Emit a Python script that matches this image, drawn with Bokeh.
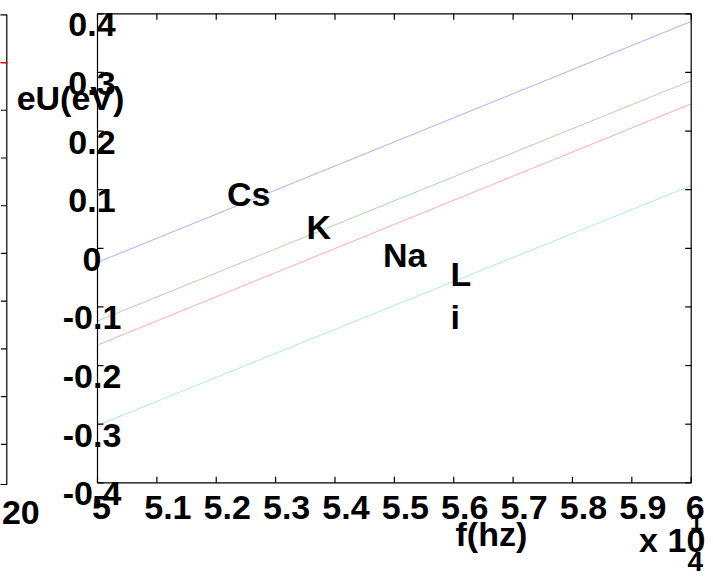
from bokeh.plotting import figure
from bokeh.models import Range1d
from bokeh.embed import file_html
from bokeh.resources import INLINE
from bokeh.core.properties import value

# ---------------- data ----------------
f_lim = [5.0, 6.0]
eu_lim = [-0.4, 0.4]
f_ticks = [5.0, 5.1, 5.2, 5.3, 5.4, 5.5, 5.6, 5.7, 5.8, 5.9, 6.0]
f_tick_labels = ["5", "5.1", "5.2", "5.3", "5.4", "5.5", "5.6", "5.7", "5.8", "5.9", "6"]
eu_ticks = [0.4, 0.3, 0.2, 0.1, 0.0, -0.1, -0.2, -0.3, -0.4]
eu_tick_labels = ["0.4", "0.3", "0.2", "0.1", "0", "-0.1", "-0.2", "-0.3", "-0.4"]

f_line = [5.0, 6.0]
eu_cs = [-0.024, 0.387]
eu_k = [-0.124, 0.286]
eu_na = [-0.165, 0.2465]
eu_li = [-0.302, 0.107]
series_names = ["Cs", "K", "Na", "Li"]
series_colors = ["#0000ff", "#008000", "#ff0000", "#00bfbf"]

label_text = ["Cs", "K", "Na", "L", "i"]
label_f = [5.218, 5.352, 5.481, 5.5946, 5.5946]
label_eu = [0.0713, 0.0145, -0.0333, -0.0664, -0.139]

# partial neighbouring panel on the far left
lp_xlim = [19.0, 20.0]
lp_ylim = [0.16, 10.0]
lp_yticks = [9, 8, 7, 6, 5, 4, 3, 2, 1]
lp_red_x = [19.0, 20.1]
lp_red_y = [9, 9]
lp_xtick_label = "20"

# ---------------- layout ----------------
W, H = 713, 578
AX_L, AX_R, AX_T, AX_B = 97.0, 690.7, 13.3, 482.3
pxx = (AX_R - AX_L) / (f_lim[1] - f_lim[0])
pxy = (AX_B - AX_T) / (eu_lim[1] - eu_lim[0])

p = figure(width=W, height=H, output_backend="svg", toolbar_location=None,
           x_range=Range1d(f_lim[0] - AX_L / pxx, f_lim[1] + (W - AX_R) / pxx),
           y_range=Range1d(eu_lim[0] - (H - AX_B) / pxy, eu_lim[1] + AX_T / pxy),
           min_border=0, x_axis_type=None, y_axis_type=None)
p.grid.visible = False
p.outline_line_color = None
p.background_fill_color = "white"
p.border_fill_color = "white"

# left panel ranges
LP_R, LP_T, LP_B = 6.3, 14.3, 484.0
lpx = 10.0
lpy = (LP_B - LP_T) / (lp_ylim[1] - lp_ylim[0])
p.extra_x_ranges = {"lp": Range1d(lp_xlim[1] - LP_R / lpx, lp_xlim[1] + (W - LP_R) / lpx)}
p.extra_y_ranges = {"lp": Range1d(lp_ylim[1] - (H - LP_T) / lpy, lp_ylim[1] + LP_T / lpy)}

FONT = value("Liberation Sans")
FS = "34px"
TICK = 6.0
DY = -13  # baseline correction for the svg text placement

# data lines
for ys, c in zip([eu_cs, eu_k, eu_na, eu_li], series_colors):
    p.line(f_line, ys, line_color=c, line_width=0.6, line_alpha=0.55)

# main box
box_x = [f_lim[0], f_lim[1], f_lim[1], f_lim[0], f_lim[0]]
box_y = [eu_lim[0], eu_lim[0], eu_lim[1], eu_lim[1], eu_lim[0]]
p.line(box_x, box_y, line_color="black", line_width=1.2)

# ticks (inward on all four sides)
n = len(f_ticks)
p.segment(x0=f_ticks, y0=[eu_lim[0]] * n, x1=f_ticks, y1=[eu_lim[0] + TICK / pxy] * n,
          line_color="black", line_width=1.2)
p.segment(x0=f_ticks, y0=[eu_lim[1]] * n, x1=f_ticks, y1=[eu_lim[1] - TICK / pxy] * n,
          line_color="black", line_width=1.2)
m = len(eu_ticks)
p.segment(x0=[f_lim[0]] * m, y0=eu_ticks, x1=[f_lim[0] + TICK / pxx] * m, y1=eu_ticks,
          line_color="black", line_width=1.2)
p.segment(x0=[f_lim[1]] * m, y0=eu_ticks, x1=[f_lim[1] - TICK / pxx] * m, y1=eu_ticks,
          line_color="black", line_width=1.2)

def txt(x, y, t, xo=0, yo=0, size=FS, align="center", **kw):
    p.text(x=x, y=y, text=t, x_offset=xo, y_offset=yo,
           text_font=FONT, text_font_style="bold", text_font_size=size,
           text_align=align, text_baseline="alphabetic", text_color="black", **kw)

# tick labels
txt(f_ticks, [eu_lim[0]] * n, f_tick_labels,
    xo=[4 + 3.5 * (len(t) - 1) for t in f_tick_labels], yo=37.7 + DY)
txt([f_lim[0]] * m, eu_ticks, eu_tick_labels, xo=-5.5, yo=24 + DY)

# axis labels
txt([f_lim[0]], [eu_lim[1]], ["eU(eV)"], xo=-27, yo=97 + DY)
txt([(f_lim[0] + f_lim[1]) / 2], [eu_lim[0]], ["f(hz)"], xo=97, yo=64 + DY)
txt([f_lim[1]], [eu_lim[0]], ["x 10"], xo=-19, yo=70 + DY)
txt([f_lim[1]], [eu_lim[0]], ["1"], xo=5, yo=53 + DY, size="22px")
txt([f_lim[1]], [eu_lim[0]], ["4"], xo=4, yo=92 + DY, size="28px")

# series labels
txt(label_f, label_eu, label_text, yo=DY, align="left")

# ---- partial left panel ----
k = len(lp_yticks)
p.line([lp_xlim[0] - 5, lp_xlim[1], lp_xlim[1], lp_xlim[0] - 5],
       [lp_ylim[1], lp_ylim[1], lp_ylim[0], lp_ylim[0]],
       x_range_name="lp", y_range_name="lp", line_color="black", line_width=1.2)
p.segment(x0=[lp_xlim[1]] * k, y0=lp_yticks, x1=[lp_xlim[1] - TICK / lpx] * k, y1=lp_yticks,
          x_range_name="lp", y_range_name="lp", line_color="black", line_width=1.2)
p.line(lp_red_x, lp_red_y, x_range_name="lp", y_range_name="lp",
       line_color="#ff0000", line_width=1.2)
txt([lp_xlim[1]], [lp_ylim[0]], [lp_xtick_label], xo=14, yo=41 + DY,
    x_range_name="lp", y_range_name="lp")

open("out.html", "w").write(file_html(p, INLINE))
